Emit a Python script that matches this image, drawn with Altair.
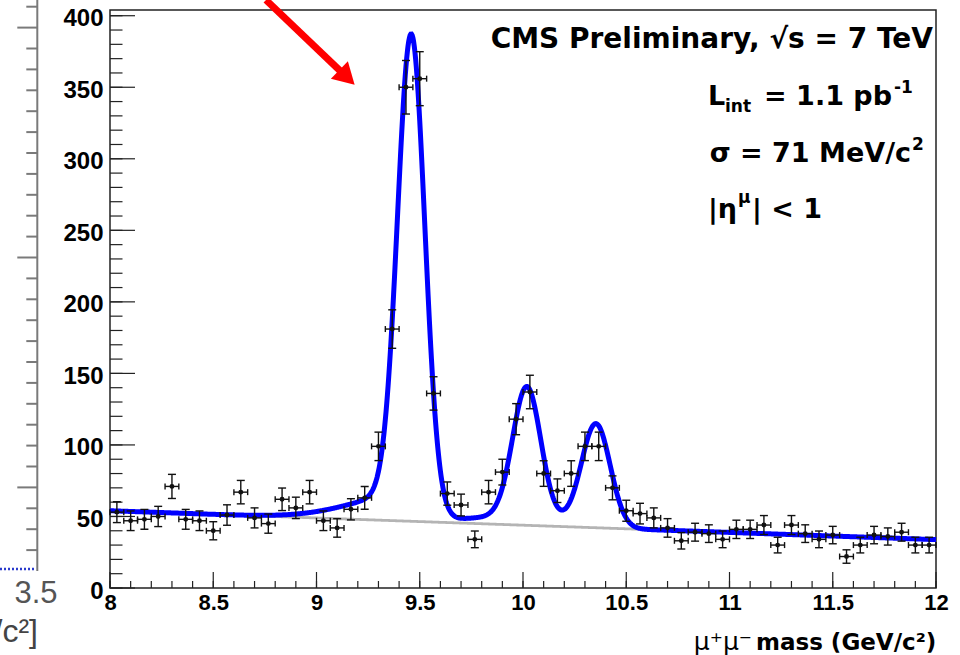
import numpy as np
import pandas as pd
import altair as alt

# ---- mu+mu- invariant mass histogram: 60 bins between 8 and 12 GeV/c^2
MASS_LO, MASS_HI, N_BINS = 8.0, 12.0, 60
COUNTS = [53, 47, 48, 50, 71, 48, 47, 40, 51, 67,
          49, 45, 62, 56, 67, 47, 42, 55, 63, 99,
          181, 350, 356, 136, 66, 58, 34, 67, 81, 118,
          137, 80, 68, 80, 99, 99, 70, 54, 52, 49,
          42, 33, 39, 38, 34, 41, 41, 44, 30, 44,
          38, 34, 37, 22, 30, 37, 36, 39, 30, 30]

# ---- fit: linear background + three Upsilon peaks (Gaussian core, low-mass tail)
BKG_LO, BKG_HI = 54.0, 33.8
PEAK_MASS = [9.4585, 10.018, 10.353]
PEAK_AMP = [321.0, 89.7, 68.7]
PEAK_SIGMA = [0.066, 0.068, 0.069]
TAIL_AMP = [19.0, 5.4, 4.1]
TAIL_SIGMA = 0.27

# ---- axes
Y_TOP = 404
Y_MAJOR = [0, 50, 100, 150, 200, 250, 300, 350, 400]
Y_MINOR = list(range(0, 401, 10))
X_MAJOR = [8.0, 8.5, 9.0, 9.5, 10.0, 10.5, 11.0, 11.5, 12.0]
X_MINOR = [round(8.0 + 0.1 * i, 1) for i in range(41)]

PLOT_W, PLOT_H = 826, 578
PAD = {"left": 110, "top": 10, "right": 24, "bottom": 67}

XS = alt.Scale(domain=[MASS_LO, MASS_HI], nice=False, zero=False)
YS = alt.Scale(domain=[0, Y_TOP], nice=False, zero=False)


def to_mass(px):
    return MASS_LO + px / PLOT_W * (MASS_HI - MASS_LO)


def to_count(py):
    return Y_TOP * (1 - py / PLOT_H)


# ---- histogram table
width = (MASS_HI - MASS_LO) / N_BINS
centers = MASS_LO + (np.arange(N_BINS) + 0.5) * width
counts = np.array(COUNTS, dtype=float)
err = np.sqrt(counts)
hist = pd.DataFrame({
    "mass": centers, "count": counts,
    "lo": counts - err, "hi": counts + err,
    "mlo": centers - width / 2, "mhi": centers + width / 2,
})
vcaps = pd.concat([
    pd.DataFrame({"mass": centers, "yv": counts - err}),
    pd.DataFrame({"mass": centers, "yv": counts + err}),
])
hcaps = pd.concat([
    pd.DataFrame({"xv": centers - width / 2, "count": counts}),
    pd.DataFrame({"xv": centers + width / 2, "count": counts}),
])

# ---- fit curves
m = np.linspace(MASS_LO, MASS_HI, 1201)
bkg = BKG_LO + (BKG_HI - BKG_LO) * (m - MASS_LO) / (MASS_HI - MASS_LO)
total = bkg.copy()
for mu, a, s, t in zip(PEAK_MASS, PEAK_AMP, PEAK_SIGMA, TAIL_AMP):
    d = m - mu
    core = a * np.exp(-d ** 2 / (2 * s ** 2))
    tail = np.where(d < 0,
                    t * np.exp(-d ** 2 / (2 * TAIL_SIGMA ** 2)),
                    t * np.exp(-d ** 2 / (2 * s ** 2)))
    total = total + core + tail
curve = pd.DataFrame({"mass": m, "bkg": bkg, "fit": total})

BLACK = "#111111"


def X(field):
    return alt.X(field, scale=XS)


def Y(field):
    return alt.Y(field, scale=YS)


bkg_line = alt.Chart(curve).mark_line(color="#b4b4b4", strokeWidth=2.8).encode(
    x=X("mass:Q"), y=Y("bkg:Q"))
fit_line = alt.Chart(curve).mark_line(color="#0000ff", strokeWidth=5).encode(
    x=X("mass:Q"), y=Y("fit:Q"))
v_err = alt.Chart(hist).mark_rule(color=BLACK, strokeWidth=1.4).encode(
    x=X("mass:Q"), y=Y("lo:Q"), y2="hi:Q")
h_err = alt.Chart(hist).mark_rule(color=BLACK, strokeWidth=1.4).encode(
    x=X("mlo:Q"), x2="mhi:Q", y=Y("count:Q"))
v_caps = alt.Chart(vcaps).mark_tick(color=BLACK, orient="horizontal", size=8,
                                    thickness=1.4, opacity=1).encode(
    x=X("mass:Q"), y=Y("yv:Q"))
h_caps = alt.Chart(hcaps).mark_tick(color=BLACK, orient="vertical", size=6,
                                    thickness=1.4, opacity=1).encode(
    x=X("xv:Q"), y=Y("count:Q"))
points = alt.Chart(hist).mark_circle(color=BLACK, size=24, opacity=1).encode(
    x=alt.X("mass:Q", scale=XS, axis=alt.Axis(
        values=X_MAJOR, format="~g", title=None, domain=False, ticks=False,
        grid=False, labelFont="Liberation Sans", labelFontSize=22,
        labelFontWeight="bold", labelColor="black", labelPadding=4,
        labelFlush=False, labelOverlap=False)),
    y=alt.Y("count:Q", scale=YS, axis=alt.Axis(
        values=Y_MAJOR, format="d", title=None, domain=False, ticks=False,
        grid=False, labelFont="Liberation Sans", labelFontSize=24,
        labelFontWeight="bold", labelColor="black", labelPadding=7,
        labelOffset=3, labelFlush=False, labelOverlap=False)),
)

# inward ticks, ROOT style
TICK = "#222222"
y_minor = alt.Chart(pd.DataFrame({"v": Y_MINOR})).mark_rule(color=TICK, strokeWidth=1.2).encode(
    y=Y("v:Q"), x=alt.value(0), x2=alt.value(12.5))
y_major = alt.Chart(pd.DataFrame({"v": Y_MAJOR})).mark_rule(color=TICK, strokeWidth=1.2).encode(
    y=Y("v:Q"), x=alt.value(0), x2=alt.value(25))
x_minor = alt.Chart(pd.DataFrame({"v": X_MINOR})).mark_rule(color=TICK, strokeWidth=1.2).encode(
    x=X("v:Q"), y=alt.value(PLOT_H), y2=alt.value(PLOT_H - 7))
x_major = alt.Chart(pd.DataFrame({"v": X_MAJOR})).mark_rule(color=TICK, strokeWidth=1.2).encode(
    x=X("v:Q"), y=alt.value(PLOT_H), y2=alt.value(PLOT_H - 16))

# red arrow pointing at the Upsilon(1S) peak
ARROW_FROM = (to_mass(156), to_count(-10))
ARROW_TO = (to_mass(237), to_count(67.4))
arrow_df = pd.DataFrame({"x": [ARROW_FROM[0]], "y": [ARROW_FROM[1]],
                         "x2": [ARROW_TO[0]], "y2": [ARROW_TO[1]]})
arrow_shaft = alt.Chart(arrow_df).mark_rule(color="#ff0000", strokeWidth=7).encode(
    x=X("x:Q"), y=Y("y:Q"), x2="x2:Q", y2="y2:Q")
arrow_head = alt.Chart(arrow_df).mark_point(
    shape="triangle-up", filled=True, size=600, angle=134, color="#ff0000",
    opacity=1, strokeWidth=0).encode(x=X("x2:Q"), y=Y("y2:Q"))

# edge of the neighbouring panel on the left
frag_x = to_mass(37.3 - 110)
frag_ticks = []
for k in range(1, 28):
    py = 561 - k * 20.9
    length = 20 if k in (4, 15, 26) else 11
    frag_ticks.append({"x": to_mass(37.3 - length - 110), "x2": frag_x, "y": to_count(py)})
frag_tick_chart = alt.Chart(pd.DataFrame(frag_ticks)).mark_rule(color="#7a7a7a", strokeWidth=2).encode(
    x=X("x:Q"), x2="x2:Q", y=Y("y:Q"))
frag_axis = alt.Chart(pd.DataFrame({"x": [frag_x], "y": [to_count(-10)], "y2": [to_count(561)]})).mark_rule(
    color="#7a7a7a", strokeWidth=2).encode(x=X("x:Q"), y=Y("y:Q"), y2="y2:Q")
frag_hist = alt.Chart(pd.DataFrame({"x": [to_mass(-110)], "x2": [to_mass(-74)], "y": [to_count(559)]})).mark_rule(
    color="#2a3acc", strokeWidth=2.5, strokeDash=[2, 2]).encode(
    x=X("x:Q"), x2="x2:Q", y=Y("y:Q"))


def label(text, x, y, size, weight="bold", align="left",
          font="DejaVu Sans", color="black"):
    return alt.Chart(pd.DataFrame({"t": [text]})).mark_text(
        align=align, baseline="alphabetic", font=font, fontSize=size,
        fontWeight=weight, color=color).encode(
        x=alt.value(x), y=alt.value(y), text="t:N")


texts = [
    label("CMS Preliminary, \u221as = 7 TeV", 823, 38, 28, align="right"),
    label("L", 598, 95, 27),
    label("int", 615, 102, 17),
    label("= 1.1 pb", 782, 95, 27, align="right"),
    label("-1", 784, 83, 17),
    label("\u03c3 = 71 MeV/c", 801, 152, 27, align="right"),
    label("2", 802, 140, 17),
    label("|\u03b7", 598, 208, 27),
    label("\u03bc", 628, 193, 17),
    label("| < 1", 642, 208, 27),
    label("\u03bc\u207a\u03bc\u207b", 642, 640, 25, weight="normal", align="right"),
    label("mass (GeV/c\u00b2)", 646, 640, 23),
    label("3.5", -74, 593, 31, weight="normal", align="center",
          font="Liberation Sans", color="#555555"),
    label("/c\u00b2]", -72, 632, 32, weight="normal", align="right",
          font="Liberation Sans", color="#444444"),
]

chart = alt.layer(
    frag_axis, frag_tick_chart, frag_hist,
    y_minor, y_major, x_minor, x_major,
    bkg_line, fit_line,
    v_err, h_err, v_caps, h_caps, points,
    arrow_shaft, arrow_head,
    *texts,
).properties(
    width=PLOT_W, height=PLOT_H,
    autosize=alt.AutoSizeParams(type="none"),
    padding=PAD,
    background="white",
).configure_view(
    stroke="#222222", strokeWidth=1.5,
)

chart.save("out.html", embed_options={"renderer": "svg", "actions": False})
